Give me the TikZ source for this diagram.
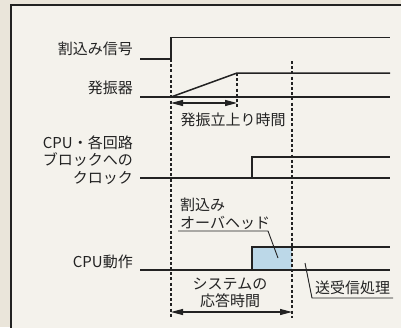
\documentclass[tikz,border=0pt]{standalone}
\usepackage{fontspec}
\setmainfont{Noto Sans CJK JP}
\usetikzlibrary{arrows.meta}
\definecolor{outerbg}{HTML}{EAE5DA}
\definecolor{panel}{HTML}{F4F2EC}
\definecolor{ink}{HTML}{222222}
\definecolor{boxblue}{HTML}{BCD8E8}
\tikzset{
  sig/.style={draw=ink, line width=1.5pt},
  guide/.style={draw=ink, line width=1.3pt, dash pattern=on 3pt off 2.2pt},
  lead/.style={draw=ink, line width=0.9pt},
  dim/.style={draw=ink, line width=1.2pt, {Triangle[length=12pt,width=6pt]}-{Triangle[length=12pt,width=6pt]}},
  lbl/.style={text=ink, font=\fontsize{15}{17.5}\selectfont, inner sep=0pt},
}
\begin{document}
\begin{tikzpicture}[x=1pt,y=-1pt]
\fill[outerbg] (0,0) rectangle (401,327);
\useasboundingbox (0,0) rectangle (401,327);
\filldraw[fill=panel, draw=ink, line width=1.5pt] (11,5) rectangle (410,340);

% coordinates
\coordinate (a0) at (140,59); \coordinate (a1) at (171,59); \coordinate (a2) at (171,37.5); \coordinate (a3) at (390,37.5);
\coordinate (b0) at (140,97); \coordinate (b1) at (171,97); \coordinate (b2) at (237,73); \coordinate (b3) at (390,73); \coordinate (b4) at (390,97);
\coordinate (c0) at (140,178); \coordinate (c1) at (252,178); \coordinate (c2) at (252,157); \coordinate (c3) at (390,157); \coordinate (c4) at (390,178);
\coordinate (d0) at (140,270); \coordinate (d1) at (252,270); \coordinate (d2) at (252,247); \coordinate (d3) at (390,247); \coordinate (d4) at (390,270);
\coordinate (g1t) at (171,59); \coordinate (g1b) at (171,318);
\coordinate (g2t) at (237,73); \coordinate (g2b) at (237,108);
\coordinate (g3t) at (292,61); \coordinate (g3b) at (292,318);
\coordinate (ar1l) at (171,103); \coordinate (ar1r) at (237,103);
\coordinate (ar2l) at (171,312); \coordinate (ar2r) at (292,312);

% blue box
\fill[boxblue] (252,247) rectangle (292,270);

% signals
\draw[sig] (a0) -- (a1) -- (a2) -- (a3);
\draw[sig] (b0) -- (b4);
\draw[sig] (b1) -- (b2) -- (b3);
\draw[sig] (c0) -- (c1) -- (c2) -- (c3);
\draw[sig] (c1) -- (c4);
\draw[sig] (d0) -- (d4);
\draw[sig] (d1) -- (d2) -- (d3);

% guides
\draw[guide] (g1t) -- (g1b);
\draw[guide] (g2t) -- (g2b);
\draw[guide] (g3t) -- (g3b);

% dimension arrows
\draw[dim] (ar1l) -- (ar1r);
\draw[dim] (ar2l) -- (ar2r);

% labels
\node[lbl, anchor=east] (la) at (133,49) {割込み信号};
\node[lbl, anchor=east] (lb) at (133,88) {発振器};
\node[lbl, anchor=east, align=right] (lc) at (133,160) {CPU・各回路\\ブロックへの\\クロック};
\node[lbl, anchor=east] (ld) at (133,262) {CPU動作};
\node[lbl] (rise) at (233,120) {発振立上り時間};
\node[lbl, anchor=west, align=left] (ovh) at (180,214) {割込み\\オーバヘッド};
\node[lbl, align=center] (resp) at (230,293) {システムの\\応答時間};
\node[lbl, anchor=west] (txrx) at (315,288) {送受信処理};

% leaders
\coordinate (o1) at (178,231); \coordinate (o2) at (268,231); \coordinate (o3) at (278,258);
\draw[lead] (o1) -- (o2) -- (o3);
\coordinate (t1) at (393,298); \coordinate (t2) at (312,298); \coordinate (t3) at (305,263);
\draw[lead] (t1) -- (t2) -- (t3);
\end{tikzpicture}
\end{document}
